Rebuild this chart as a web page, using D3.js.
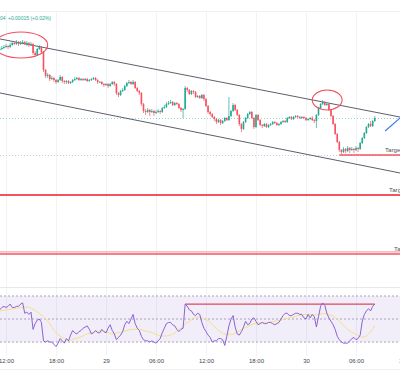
<!DOCTYPE html>
<html><head><meta charset="utf-8">
<script src="https://cdn.jsdelivr.net/npm/d3@7"></script>
<style>html,body{margin:0;padding:0;background:#fff;overflow:hidden}svg{display:block}</style>
</head><body><svg id="c" width="400" height="385"></svg>
<script>
// ---------- DATA ----------
const startTime = "2024-03-28T11:15:00";
const candleMinutes = 15;
const firstOpen = 0.6750;
const closes = [0.6751,0.6752,0.6753,0.6754,0.6753,0.6755,0.6757,0.6756,0.6758,0.6756,0.6757,0.6758,0.6756,0.6757,0.6755,0.6756,0.6747,0.6745,0.6751,0.6753,0.6748,0.6730,0.6724,0.6725,0.6721,0.6722,0.6720,0.6718,0.6720,0.6723,0.6719,0.6718,
0.6719,0.6717,0.6718,0.6720,0.6721,0.6722,0.6720,0.6721,0.6720,0.6721,0.6719,0.6720,0.6721,0.6722,0.6720,0.6718,0.6718,0.6716,0.6715,0.6716,0.6714,0.6716,0.6718,0.6716,0.6707,0.6705,0.6709,0.6710,0.6714,0.6717,0.6718,0.6716,0.6718,0.6712,0.6709,0.6707,0.6696,0.6689,0.6688,0.6690,0.6688,0.6689,0.6687,0.6688,0.6689,0.6688,0.6692,0.6693,0.6696,0.6697,0.6698,0.6695,0.6697,0.6696,0.6692,0.6690,0.6691,0.6712,0.6710,0.6706,0.6709,
0.6708,0.6703,0.6704,0.6702,0.6705,0.6701,0.6694,0.6688,0.6686,0.6683,0.6681,0.6678,0.6680,0.6677,0.6679,0.6682,0.6680,0.6684,0.6689,0.6695,0.6690,0.6685,0.6676,0.6671,0.6678,0.6682,0.6686,0.6688,0.6682,0.6673,0.6685,0.6680,0.6675,0.6674,0.6676,0.6673,0.6675,0.6676,0.6678,0.6677,0.6675,0.6676,0.6678,0.6679,0.6678,0.6682,0.6683,0.6681,0.6683,0.6684,0.6683,0.6682,0.6683,0.6682,0.6680,0.6681,0.6682,
0.6680,0.6679,0.6685,0.6692,0.6696,0.6698,0.6695,0.6696,0.6690,0.6684,0.6676,0.6666,0.6658,0.6650,0.6648,0.6651,0.6649,0.6652,0.6650,0.6651,0.6650,0.6652,0.6651,0.6657,0.6662,0.6667,0.6673,0.6676,0.6674,0.6679,0.6682];
const highs = [0.6753,0.6754,0.6755,0.6756,0.6755,0.6757,0.6759,0.6759,0.6760,0.6759,0.6759,0.6760,0.6759,0.6759,0.6758,0.6758,0.6757,0.6749,0.6752,0.6755,0.6754,0.6749,0.6731,0.6727,0.6726,0.6724,0.6723,0.6721,0.6721,0.6725,0.6724,0.6720,
0.6720,0.6720,0.6719,0.6721,0.6723,0.6723,0.6723,0.6722,0.6722,0.6722,0.6722,0.6721,0.6722,0.6723,0.6723,0.6721,0.6719,0.6719,0.6717,0.6717,0.6717,0.6717,0.6719,0.6719,0.6717,0.6708,0.6710,0.6712,0.6715,0.6718,0.6720,0.6719,0.6720,0.6719,0.6713,0.6710,0.6708,0.6697,0.6691,0.6692,0.6691,0.6691,0.6690,0.6690,0.6691,0.6690,0.6693,0.6695,0.6698,0.6699,0.6700,0.6699,0.6698,0.6698,0.6697,0.6693,0.6692,0.6714,0.6713,0.6711,0.6710,
0.6710,0.6709,0.6705,0.6705,0.6706,0.6706,0.6702,0.6695,0.6689,0.6687,0.6684,0.6682,0.6681,0.6681,0.6680,0.6683,0.6683,0.6703,0.6690,0.6697,0.6696,0.6691,0.6686,0.6677,0.6679,0.6683,0.6687,0.6689,0.6689,0.6683,0.6686,0.6686,0.6681,0.6676,0.6677,0.6677,0.6676,0.6677,0.6679,0.6679,0.6678,0.6677,0.6679,0.6680,0.6680,0.6683,0.6684,0.6684,0.6684,0.6685,0.6685,0.6684,0.6684,0.6684,0.6683,0.6682,0.6683,
0.6684,0.6681,0.6686,0.6693,0.6697,0.6700,0.6699,0.6697,0.6697,0.6691,0.6685,0.6677,0.6667,0.6659,0.6651,0.6653,0.6652,0.6654,0.6653,0.6653,0.6652,0.6654,0.6653,0.6658,0.6663,0.6668,0.6674,0.6677,0.6679,0.6680,0.6684];
const lows = [0.6749,0.6750,0.6751,0.6752,0.6751,0.6752,0.6754,0.6755,0.6755,0.6754,0.6755,0.6756,0.6755,0.6754,0.6753,0.6754,0.6745,0.6743,0.6744,0.6750,0.6746,0.6728,0.6722,0.6722,0.6719,0.6720,0.6718,0.6716,0.6717,0.6719,0.6717,0.6716,
0.6716,0.6716,0.6716,0.6717,0.6719,0.6720,0.6719,0.6719,0.6719,0.6719,0.6718,0.6718,0.6719,0.6720,0.6719,0.6716,0.6717,0.6715,0.6713,0.6714,0.6712,0.6713,0.6715,0.6714,0.6705,0.6703,0.6704,0.6708,0.6709,0.6713,0.6716,0.6715,0.6715,0.6711,0.6708,0.6705,0.6694,0.6687,0.6685,0.6687,0.6684,0.6687,0.6684,0.6686,0.6687,0.6686,0.6687,0.6691,0.6692,0.6695,0.6696,0.6694,0.6694,0.6695,0.6691,0.6688,0.6682,0.6690,0.6708,0.6705,0.6705,
0.6706,0.6702,0.6702,0.6701,0.6701,0.6699,0.6693,0.6686,0.6684,0.6682,0.6679,0.6676,0.6677,0.6675,0.6676,0.6678,0.6679,0.6679,0.6683,0.6688,0.6689,0.6684,0.6674,0.6668,0.6670,0.6677,0.6681,0.6685,0.6681,0.6671,0.6672,0.6679,0.6674,0.6672,0.6673,0.6672,0.6672,0.6674,0.6675,0.6676,0.6674,0.6674,0.6675,0.6677,0.6677,0.6677,0.6681,0.6680,0.6680,0.6682,0.6682,0.6681,0.6681,0.6681,0.6679,0.6679,0.6680,
0.6679,0.6677,0.6672,0.6684,0.6691,0.6695,0.6694,0.6694,0.6689,0.6683,0.6675,0.6665,0.6657,0.6648,0.6646,0.6647,0.6647,0.6648,0.6647,0.6649,0.6647,0.6649,0.6648,0.6650,0.6656,0.6661,0.6666,0.6672,0.6673,0.6673,0.6678];
const rsi = [58,60,61,60,61,63,60,60,61,61,63,64,55,56,54,56,41,46,49,50,47,31,30,31,30,30,28,26,29,33,31,29,
33,31,36,40,38,37,39,40,42,43,44,41,37,38,40,38,38,41,39,38,42,45,40,37,32,34,36,39,45,48,46,50,54,46,42,40,35,32,31,31,30,31,30,29,31,33,38,42,46,47,47,45,44,41,39,41,42,63,61,58,57,
54,53,55,54,47,42,39,36,34,30,31,31,33,33,32,27,35,44,50,53,43,37,36,39,43,48,45,46,50,51,48,45,46,47,46,46,47,47,46,45,46,47,50,53,55,55,53,53,54,55,55,54,54,51,50,54,51,
54,52,43,52,61,64,62,55,51,48,45,41,35,32,30,29,29,29,31,33,34,32,33,36,48,54,57,59,57,61,63];
const rsiMA = [57,57.3,57.6,58,58.2,58.4,58.7,59,59.3,59.6,59.9,60.1,60.3,60.4,60.1,59.5,58.5,57.5,56.2,54.8,53.5,52,50,48.3,46,43,40,38,36.5,35,34,33,
31,31,31.5,32.3,32.8,33.3,33.8,34.5,35.3,36.2,37,37.5,38,38.5,39,39.4,39.6,39.3,39,38.7,38.2,37.5,36.8,37.3,37.8,38.2,38.4,39,39.6,40,40.5,41,41,41,41,41,40.6,40,39.6,39.2,38.8,38.3,37.5,36.7,35.8,35.2,35.2,35.2,35.2,35.5,36,36.7,38,39.5,41,42,43.5,45.5,46.8,48,49.3,
51,51.5,51.7,51.7,51,50.3,49.7,48.5,47,45.4,43.5,41.5,40,38.8,37.8,37,36.7,36.7,36.7,36.7,37.5,38.5,39.6,40.5,41.5,42.5,43.3,44.3,45.2,45.8,46.3,46.6,46.8,46.8,46.8,46.8,47,47.3,47.6,48,48.4,48.7,49,49.5,50,50.4,50.9,51.4,51.8,52.3,52.8,53.1,53.4,53.8,54,54.1,54,
53.3,53.5,53.8,54.1,54.4,54.6,54.7,54.5,54,53.3,52.6,51.3,50,48.3,46.5,44.5,42.5,41,39.6,38.5,37.5,36.5,35.5,34.6,34.2,34.6,35.2,37,39,41.5,44.5];

const tickTimes = ["2024-03-28T12:00","2024-03-28T18:00","2024-03-29T00:00","2024-03-29T06:00","2024-03-29T12:00","2024-03-29T18:00","2024-03-30T00:00","2024-03-30T06:00","2024-03-30T12:00"];
const tickLabels = ["12:00","18:00","29","06:00","12:00","18:00","30","06:00","12:00"];
const headerLeft = "04";
const headerChange = "+0.00015 (+0.02%)";
const channelUpper = [["2024-03-28T11:00",0.67615],["2024-03-30T12:00",0.66818]];
const channelLower = [["2024-03-28T11:00",0.67075],["2024-03-30T12:00",0.66258]];
const projection = [["2024-03-30T09:30",0.66690],["2024-03-30T12:00",0.66872]];
const ellipses = [
  {t0:"2024-03-28T10:35", t1:"2024-03-28T17:00", pTop:0.6768, pBot:0.6742},
  {t0:"2024-03-30T00:45", t1:"2024-03-30T04:20", pTop:0.6710, pBot:0.6690}
];
const targetNames = ["Target","Target","Target"];
const targetPrices = [0.6645,0.6605,0.6546];
const targetStarts = ["2024-03-30T04:00","2024-03-28T10:00","2024-03-28T10:00"];
const targetLabelTimes = ["2024-03-30T09:29","2024-03-30T09:58","2024-03-30T10:34"];
const priceLines = [0.6682,0.6645];
const rsiLevels = [70,50,30];
const rsiResistance = {t0:"2024-03-29T09:30", t1:"2024-03-30T08:15", v:63};

// ---------- DRAW ----------
const P = s => new Date(s);
const svg = d3.select("#c");
const W = 400;
const x = d3.scaleTime().domain([P("2024-03-28T12:00"), P("2024-03-30T12:00")]).range([6, 406]);
const y = d3.scaleLinear().domain([0.6513, 0.6789]).range([287, 11]);
const yR = d3.scaleLinear().domain([30, 70]).range([342, 296]);

const t0 = P(startTime);
const candles = closes.map((c, i) => ({
  t: new Date(t0.getTime() + i * candleMinutes * 60000),
  o: i === 0 ? firstOpen : closes[i - 1], c, h: highs[i], l: lows[i], r: rsi[i], m: rsiMA[i]
}));

svg.append("rect").attr("width", W).attr("height", 385).attr("fill", "#fff");

// grid
const grid = svg.append("g");
tickTimes.forEach(s => {
  const gx = Math.round(x(P(s))) + 0.5;
  grid.append("line").attr("x1", gx).attr("x2", gx).attr("y1", 11).attr("y2", 356)
    .attr("stroke", "#f0f3fa").attr("stroke-width", 1);
});
svg.append("line").attr("x1",0).attr("x2",W).attr("y1",11.5).attr("y2",11.5).attr("stroke","#eef0f4");
svg.append("line").attr("x1",0).attr("x2",W).attr("y1",287.5).attr("y2",287.5).attr("stroke","#e6e8ee");
svg.append("line").attr("x1",0).attr("x2",W).attr("y1",369.5).attr("y2",369.5).attr("stroke","#eef0f4");

// header
svg.append("text").attr("x", 0).attr("y", 19.5).attr("font-family", "Liberation Sans, Arial, sans-serif")
  .attr("font-size", 5).attr("fill", "#22ab94").text(headerLeft);
svg.append("text").attr("x", 8).attr("y", 19.5).attr("font-family", "Liberation Sans, Arial, sans-serif")
  .attr("font-size", 5).attr("fill", "#22ab94").text(headerChange);

// main pane
svg.append("clipPath").attr("id", "mainclip").append("rect").attr("x", 0).attr("y", 12).attr("width", W).attr("height", 275);
const main = svg.append("g").attr("clip-path", "url(#mainclip)");

// price lines (dotted)
priceLines.forEach((p, k) => {
  main.append("line").attr("x1", 0).attr("x2", W).attr("y1", Math.round(y(p)) + 0.5).attr("y2", Math.round(y(p)) + 0.5)
    .attr("stroke", k === 0 ? "#9fd3ca" : "#c5cad3").attr("stroke-width", 1).attr("stroke-dasharray", "1,2");
});

// targets
targetPrices.forEach((p, k) => {
  const ty = y(p);
  if (k === 2) {
    main.append("line").attr("x1", x(P(targetStarts[k]))).attr("x2", W).attr("y1", ty - 2.2).attr("y2", ty - 2.2)
      .attr("stroke", "#f9a9ae").attr("stroke-width", 1.3);
  }
  main.append("line").attr("x1", x(P(targetStarts[k]))).attr("x2", W).attr("y1", ty).attr("y2", ty)
    .attr("stroke", "#f23645").attr("stroke-opacity", 0.85).attr("stroke-width", k === 1 ? 1.8 : 1.5);
  main.append("text").attr("x", x(P(targetLabelTimes[k]))).attr("y", ty - 3)
    .attr("font-family", "Liberation Sans, Arial, sans-serif").attr("font-size", 6.2).attr("fill", "#50535e")
    .text(targetNames[k]);
});

// channel
[channelUpper, channelLower].forEach(ch => {
  main.append("line").attr("x1", x(P(ch[0][0]))).attr("y1", y(ch[0][1]))
    .attr("x2", x(P(ch[1][0]))).attr("y2", y(ch[1][1]))
    .attr("stroke", "#5d606b").attr("stroke-width", 1);
});

// candles
const cg = main.append("g");
candles.forEach(d => {
  const cx = x(d.t);
  const up = d.c >= d.o;
  const col = up ? "#22ab94" : "#f7525f";
  cg.append("line").attr("x1", cx).attr("x2", cx).attr("y1", y(d.h)).attr("y2", y(d.l))
    .attr("stroke", col).attr("stroke-width", 0.7);
  const yt = y(Math.max(d.o, d.c)), yb = y(Math.min(d.o, d.c));
  cg.append("rect").attr("x", cx - 0.8).attr("width", 1.6).attr("y", yt).attr("height", Math.max(0.8, yb - yt))
    .attr("fill", col);
});

// ellipses
ellipses.forEach(e => {
  const xa = x(P(e.t0)), xb = x(P(e.t1)), ya = y(e.pTop), yb = y(e.pBot);
  main.append("ellipse").attr("cx", (xa + xb) / 2).attr("cy", (ya + yb) / 2)
    .attr("rx", (xb - xa) / 2).attr("ry", (yb - ya) / 2)
    .attr("fill", "none").attr("stroke", "#ef4f5e").attr("stroke-width", 1.1);
});

// projection line
main.append("line").attr("x1", x(P(projection[0][0]))).attr("y1", y(projection[0][1]))
  .attr("x2", x(P(projection[1][0]))).attr("y2", y(projection[1][1]))
  .attr("stroke", "#3d7cf2").attr("stroke-width", 1.2);

// RSI pane
const rp = svg.append("g");
rp.append("rect").attr("x", 0).attr("width", W).attr("y", yR(70)).attr("height", yR(30) - yR(70))
  .attr("fill", "#7e57c2").attr("fill-opacity", 0.1);
rsiLevels.forEach(v => {
  rp.append("line").attr("x1", 0).attr("x2", W).attr("y1", yR(v)).attr("y2", yR(v))
    .attr("stroke", "#a9a4bb").attr("stroke-width", 1).attr("stroke-dasharray", "2,2");
});
rp.append("line").attr("x1", x(P(rsiResistance.t0))).attr("x2", x(P(rsiResistance.t1)))
  .attr("y1", yR(rsiResistance.v)).attr("y2", yR(rsiResistance.v))
  .attr("stroke", "#e0455f").attr("stroke-width", 1.2);
rp.append("path").datum(candles).attr("fill", "none").attr("stroke", "#f5df8a").attr("stroke-width", 1)
  .attr("d", d3.line().x(d => x(d.t)).y(d => yR(d.m)).curve(d3.curveMonotoneX));
rp.append("path").datum(candles).attr("fill", "none").attr("stroke", "#8a63d2").attr("stroke-width", 1)
  .attr("d", d3.line().x(d => x(d.t)).y(d => yR(d.r)));

// time axis
const axis = d3.axisBottom(x).tickValues(tickTimes.map(P)).tickFormat((d, i) => tickLabels[i]).tickSize(0).tickPadding(0);
const ag = svg.append("g").attr("transform", "translate(0,359)").call(axis);
ag.select(".domain").remove();
ag.selectAll("text").attr("font-family", "Liberation Sans, Arial, sans-serif").attr("font-size", 6)
  .attr("fill", "#434651").attr("dy", "0.71em");
</script></body></html>
